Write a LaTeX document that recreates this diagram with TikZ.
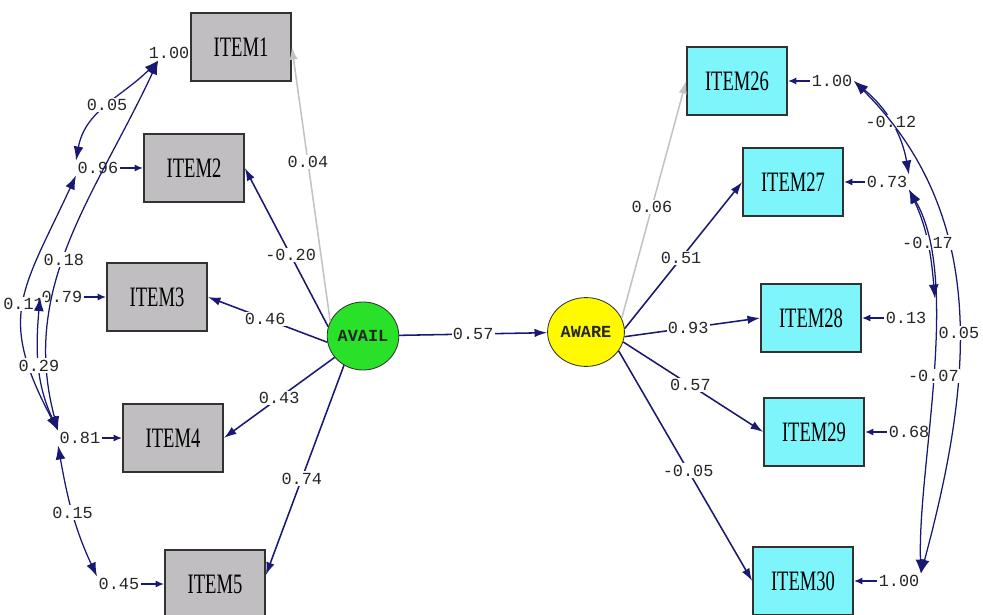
\documentclass[tikz,border=0pt]{standalone}
\usepackage{tikz}
\usetikzlibrary{shapes.geometric}
\usetikzlibrary{arrows.meta}
\usepackage{xcolor}
\usepackage{fontspec}
\newfontfamily\coeffont{Liberation Mono}
\newfontfamily\itemfont[FakeStretch=0.66]{Liberation Serif}
\definecolor{itemgray}{RGB}{192,190,192}
\definecolor{itemcyan}{RGB}{125,245,250}
\definecolor{availgreen}{RGB}{40,225,40}
\definecolor{awareyellow}{RGB}{255,250,0}
\definecolor{pathnavy}{RGB}{25,25,115}
\definecolor{pathgray}{RGB}{195,195,195}
\definecolor{boxline}{RGB}{50,50,50}

\begin{document}
\begin{tikzpicture}[x=0.025cm, y=0.025cm]
        % ================= 样式定义 =================
        \tikzset{
            % 观测变量:矩形框
            itembox/.style={rectangle, draw=boxline, line width=1.2pt, minimum width=2.5cm, minimum height=1.7cm, inner sep=0pt, font=\itemfont\fontsize{20}{24}\selectfont},
            % 潜变量:圆
            latent/.style={ellipse, draw=black!80, line width=0.6pt, inner sep=0pt, text=black!85, font=\coeffont\bfseries\fontsize{12}{14}\selectfont},
            % 系数标签
            coef/.style={fill=white, inner sep=1pt, text=black!85, font=\coeffont\fontsize{12}{14}\selectfont},
            errval/.style={inner sep=1pt, text=black!85, font=\coeffont\fontsize{12}{14}\selectfont},
            % 连边样式
            loadarrow/.style={draw=pathnavy, line width=1.1pt, -{Latex[length=9pt, width=6pt]}},
            loadgray/.style={loadarrow, draw=pathgray},
            errarrow/.style={draw=pathnavy, line width=1.2pt, -{Latex[length=6pt, width=5pt]}},
            covarc/.style={draw=pathnavy, line width=0.9pt, {Latex[length=10pt, width=7pt]}-{Latex[length=10pt, width=7pt]}}
        }

        \useasboundingbox (0,0) rectangle (983,-615);
        \clip (0,0) rectangle (983,-615);

        % ================= 节点位置 =================
        % 左侧观测变量
        \node[itembox, fill=itemgray] (ITEM1) at (241,-47) {ITEM1};
        \node[itembox, fill=itemgray] (ITEM2) at (194,-168) {ITEM2};
        \node[itembox, fill=itemgray] (ITEM3) at (157,-297) {ITEM3};
        \node[itembox, fill=itemgray] (ITEM4) at (173,-438) {ITEM4};
        \node[itembox, fill=itemgray] (ITEM5) at (215,-584) {ITEM5};

        % 右侧观测变量
        \node[itembox, fill=itemcyan] (ITEM26) at (737,-81) {ITEM26};
        \node[itembox, fill=itemcyan] (ITEM27) at (793,-182) {ITEM27};
        \node[itembox, fill=itemcyan] (ITEM28) at (811,-318) {ITEM28};
        \node[itembox, fill=itemcyan] (ITEM29) at (814,-432) {ITEM29};
        \node[itembox, fill=itemcyan] (ITEM30) at (803,-581) {ITEM30};

        % 潜变量
        \node[latent, fill=availgreen, minimum width=1.65cm, minimum height=1.7cm] (AVAIL) at (363,-336) {AVAIL};
        \node[latent, fill=awareyellow, minimum width=1.92cm, minimum height=1.72cm] (AWARE) at (586,-332) {AWARE};

        % 误差方差
        \node[errval] (e1) at (169,-53) {1.00};
        \node[errval] (e2) at (98,-168) {0.96};
        \node[errval] (e3) at (62,-297) {0.79};
        \node[errval] (e4) at (80,-438) {0.81};
        \node[errval] (e5) at (119,-584) {0.45};
        \node[errval] (e26) at (832,-81) {1.00};
        \node[errval] (e27) at (887,-182) {0.73};
        \node[errval] (e28) at (906,-318) {0.13};
        \node[errval] (e29) at (909,-432) {0.68};
        \node[errval] (e30) at (899,-581) {1.00};

        % ================= 连边 =================
        % 1. 因子载荷
        \draw[loadgray] (AVAIL.156) -- node[coef, pos=0.58] {0.04} (ITEM1.east);
        \draw[loadarrow] (AVAIL.165) -- node[coef, pos=0.45] {-0.20} (ITEM2.east);
        \draw[loadarrow] (AVAIL.190) -- node[coef, pos=0.52] {0.46} (ITEM3.east);
        \draw[loadarrow] (AVAIL.217) -- node[coef, pos=0.5] {0.43} (ITEM4.east);
        \draw[loadarrow] (AVAIL.237) -- node[coef, pos=0.54] {0.74} (ITEM5.10);

        \draw[loadarrow] (AVAIL) -- node[coef] {0.57} (AWARE);

        \draw[loadgray] (AWARE.21) -- node[coef, pos=0.47] {0.06} (ITEM26.west);
        \draw[loadarrow] (AWARE.5) -- node[coef, pos=0.48] {0.51} (ITEM27.west);
        \draw[loadarrow] (AWARE.-7) -- node[coef, pos=0.47] {0.93} (ITEM28.west);
        \draw[loadarrow] (AWARE.-15) -- node[coef, pos=0.48] {0.57} (ITEM29.west);
        \draw[loadarrow] (AWARE.-30) -- node[coef, pos=0.52] {-0.05} (ITEM30.west);

        % 2. 误差项
        \draw[errarrow] (e2) -- (ITEM2);
        \draw[errarrow] (e3) -- (ITEM3);
        \draw[errarrow] (e4) -- (ITEM4);
        \draw[errarrow] (e5) -- (ITEM5);
        \draw[errarrow] (e26) -- (ITEM26);
        \draw[errarrow] (e27) -- (ITEM27);
        \draw[errarrow] (e28) -- (ITEM28);
        \draw[errarrow] (e29) -- (ITEM29);
        \draw[errarrow] (e30) -- (ITEM30);

        % 3. 误差协方差 (左侧)
        \draw[covarc] (e2.north west) to[out=80, in=225] node[coef] {0.05} ([xshift=8pt]e1.south west);
        \draw[covarc] ([xshift=8pt]e1.south west) to[out=245, in=105] node[coef, pos=0.55] {0.18} (e4.north west);
        \draw[covarc] (e2.south west) to[out=245, in=118, looseness=1.3] node[coef] {0.11} (e4.north west);
        \draw[covarc] (e3.west) to[out=265, in=115] node[coef] {0.29} (e4.north west);
        \draw[covarc] (e4.south west) to[out=280, in=115] node[coef] {0.15} (e5.north west);

        % 4. 误差协方差 (右侧)
        \draw[covarc] (e26.east) to[out=-40, in=100] node[coef] {-0.12} (e27.north east);
        \draw[covarc] (e26.east) to[out=-45, in=75] node[coef, pos=0.55] {0.05} (e30.north east);
        \draw[covarc] (e27.south east) to[out=-65, in=95] node[coef] {-0.17} ([shift={(7,12)}]e28.north east);
        \draw[covarc] (e27.south east) to[out=-60, in=92, looseness=0.7] node[coef] {-0.07} (e30.north east);

    \end{tikzpicture}
\end{document}
